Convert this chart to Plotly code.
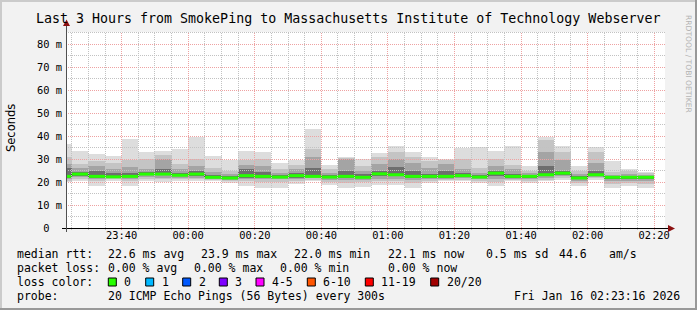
import math
import plotly.graph_objects as go
from datetime import datetime, timedelta

# ---------------- data ----------------
bar_times = ["23:20", "23:25", "23:30", "23:35", "23:40", "23:45", "23:50", "23:55",
             "00:00", "00:05", "00:10", "00:15", "00:20", "00:25", "00:30", "00:35",
             "00:40", "00:45", "00:50", "00:55", "01:00", "01:05", "01:10", "01:15",
             "01:20", "01:25", "01:30", "01:35", "01:40", "01:45", "01:50", "01:55",
             "02:00", "02:05", "02:10", "02:15"]

max_rtt = [36.5, 33.6, 32.3, 31.4, 38.8, 33.0, 33.6, 34.5, 39.8, 31.4, 29.7, 33.6,
           33.0, 28.5, 29.7, 43.2, 27.6, 30.9, 30.0, 32.6, 35.8, 33.3, 31.1, 30.1,
           35.0, 35.5, 33.6, 35.8, 27.1, 39.8, 35.8, 26.8, 35.1, 29.0, 25.7, 24.3]
hi2 = [31.0, 28.0, 29.0, 28.5, 29.5, 30.0, 32.0, 28.0, 30.0, 26.0, 25.0, 29.5,
       30.0, 25.5, 27.5, 34.5, 25.5, 30.5, 27.0, 31.0, 33.0, 31.0, 29.0, 29.5,
       30.0, 26.0, 30.0, 27.5, 25.0, 38.5, 33.0, 25.0, 33.0, 24.5, 24.8, 23.8]
hi3 = [28.0, 26.0, 27.0, 25.5, 26.5, 25.5, 30.0, 25.5, 27.0, 24.5, 23.5, 27.5,
       27.0, 24.0, 25.5, 31.0, 24.0, 30.0, 25.0, 28.0, 30.0, 28.5, 26.0, 28.0,
       25.5, 24.0, 27.0, 25.5, 23.8, 33.0, 29.5, 23.5, 28.5, 23.3, 23.5, 23.2]
hi4 = [26.0, 24.5, 25.0, 24.0, 24.0, 24.2, 25.5, 24.0, 25.0, 23.2, 22.8, 25.5,
       24.5, 23.0, 24.0, 26.0, 23.0, 25.0, 23.5, 25.0, 26.5, 25.0, 23.5, 25.0,
       24.0, 23.0, 25.0, 23.5, 23.0, 27.0, 25.0, 22.5, 25.0, 22.6, 22.8, 22.7]
median_rtt = [22.5, 23.5, 22.5, 22.3, 22.5, 23.5, 23.5, 23.0, 23.5, 22.1, 21.8, 22.8,
              22.5, 22.2, 22.8, 22.5, 22.2, 22.5, 22.1, 23.6, 23.2, 22.5, 22.5, 22.5,
              22.8, 22.2, 23.9, 22.5, 22.5, 23.2, 23.9, 21.8, 23.2, 22.1, 22.1, 22.1]
lo4 = [21.8, 22.8, 22.0, 22.1, 22.2, 23.0, 23.0, 22.5, 22.5, 21.8, 21.4, 22.0,
       22.0, 21.8, 22.0, 22.2, 21.8, 22.0, 21.6, 22.8, 22.5, 22.0, 22.0, 22.0,
       22.3, 21.8, 22.8, 22.0, 22.0, 22.5, 23.2, 21.2, 22.8, 21.5, 21.5, 21.5]
lo3 = [21.2, 22.2, 21.5, 21.8, 21.5, 22.3, 22.0, 22.0, 22.0, 21.5, 21.0, 21.5,
       21.5, 21.2, 21.5, 21.8, 21.0, 21.0, 21.0, 21.5, 21.5, 21.0, 21.5, 21.5,
       21.8, 21.2, 21.5, 21.5, 21.2, 21.8, 22.5, 20.5, 22.3, 20.5, 20.5, 20.5]
lo2 = [20.5, 21.5, 20.5, 21.2, 20.5, 21.5, 21.5, 21.5, 21.5, 21.0, 20.5, 20.5,
       20.0, 20.0, 20.5, 21.0, 20.0, 19.5, 20.0, 20.5, 20.5, 19.8, 20.5, 21.0,
       21.0, 20.5, 20.0, 21.0, 20.5, 21.0, 21.8, 19.5, 21.8, 19.0, 19.5, 19.0]
min_rtt = [20.0, 20.5, 18.2, 20.3, 18.2, 20.5, 20.0, 20.3, 20.3, 20.3, 19.6, 18.2,
           17.5, 17.5, 19.3, 20.3, 18.6, 17.5, 17.8, 18.9, 18.9, 17.5, 19.6, 20.3,
           20.3, 19.6, 18.2, 20.3, 19.6, 20.3, 21.0, 18.4, 21.0, 17.5, 18.2, 17.5]

x_tick_labels = ["23:40", "00:00", "00:20", "00:40", "01:00", "01:20", "01:40", "02:00", "02:20"]
y_tick_vals = [0, 10, 20, 30, 40, 50, 60, 70, 80]
y_tick_labels = ["0\u00a0\u00a0", "10 m", "20 m", "30 m", "40 m", "50 m", "60 m", "70 m", "80 m"]

rtt_stat_names = ["avg", "max", "min", "now"]
rtt_stat_vals = [22.6, 23.9, 22.0, 22.1]
rtt_sd = 0.5
rtt_ams = 44.6
loss_stat_vals = [0.00, 0.00, 0.00, 0.00]
loss_labels = ["0", "1", "2", "3", "4-5", "6-10", "11-19", "20/20"]
loss_colors = ["#26ff00", "#00b8ff", "#0059ff", "#7e00ff", "#ff00ff", "#ff5500", "#ff0000", "#a10000"]
probe_text = "20 ICMP Echo Pings (56 Bytes) every 300s"
stamp_text = "Fri Jan 16 02:23:16 2026"
title_text = "Last 3 Hours from SmokePing to Massachusetts Institute of Technology Webserver"

# ---------------- geometry ----------------
W, H = 697, 310
L, R, T, B = 66, 32, 32, 82
PW, PH = W - L - R, H - T - B
t_start = datetime(2026, 1, 15, 23, 23, 16)
t_end = datetime(2026, 1, 16, 2, 23, 16)
SPAN = (t_end - t_start).total_seconds()
YMAX = 85.4
MONO = "DejaVu Sans Mono"
MINOR_C = "#c2c2c2"
MAJOR_C = "#eea2a2"
DOT = "1px,1px"


def X(px):
    return (px - L) / PW


def Y(py):
    return (H - B - py) / PH


def snap(p):
    return math.floor(p) + 0.5


def to_dt(hm):
    h, m = map(int, hm.split(":"))
    return datetime(2026, 1, 15 if h >= 12 else 16, h, m)


step = timedelta(minutes=5)
starts = [to_dt(t) for t in bar_times]
centers = [s + step / 2 for s in starts]
ends = [s + step for s in starts]

fig = go.Figure()

# smoke layers
layers = [(min_rtt, max_rtt, "#dddddd"), (lo2, hi2, "#c4c4c4"),
          (lo3, hi3, "#a4a4a4"), (lo4, hi4, "#6e6e6e")]
for lo, hi, col in layers:
    fig.add_trace(go.Bar(x=centers, y=[h - l for h, l in zip(hi, lo)], base=lo,
                         width=300000, marker=dict(color=col, line=dict(width=0)),
                         hoverinfo="skip"))

# horizontal dotted grid, drawn over the smoke (snapped to pixel rows)
for is_major in (False, True):
    hx, hy = [], []
    for v in range(5, 90, 5):
        if v > YMAX or (v % 10 == 0) != is_major:
            continue
        vs = (H - B - snap(H - B - v / YMAX * PH)) / PH * YMAX
        hx += [t_start, t_end, None]
        hy += [vs, vs, None]
    fig.add_trace(go.Scatter(x=hx, y=hy, mode="lines", hoverinfo="skip",
                             line=dict(color=MAJOR_C if is_major else MINOR_C, width=1, dash=DOT)))

# thin dark median step line
fig.add_trace(go.Scatter(x=starts + [ends[-1]], y=median_rtt + [median_rtt[-1]],
                         mode="lines", line=dict(shape="hv", color="#202020", width=1),
                         hoverinfo="skip"))
# green (0 loss) median segments
gx, gy = [], []
for s, e, m in zip(starts, ends, median_rtt):
    gx += [s, e, None]
    gy += [m, m, None]
fig.add_trace(go.Scatter(x=gx, y=gy, mode="lines", line=dict(color=loss_colors[0], width=3),
                         hoverinfo="skip"))

shapes = []
# vertical grid lines (snapped to pixel centres)
t = datetime(2026, 1, 15, 23, 25)
while t < t_end:
    major = (t.minute % 20 == 0)
    px = snap(L + (t - t_start).total_seconds() / SPAN * PW)
    shapes.append(dict(type="line", xref="paper", yref="paper", x0=X(px), x1=X(px),
                       y0=Y(230), y1=Y(T),
                       line=dict(color=MAJOR_C if major else MINOR_C, width=1, dash=DOT),
                       layer="above"))
    t += step
# axes
shapes.append(dict(type="line", xref="paper", yref="paper", x0=X(62), x1=X(669),
                   y0=Y(228.5), y1=Y(228.5), line=dict(color="#000000", width=1), layer="above"))
shapes.append(dict(type="line", xref="paper", yref="paper", x0=X(66.5), x1=X(66.5),
                   y0=Y(232), y1=Y(25), line=dict(color="#505050", width=1), layer="above"))
shapes.append(dict(type="path", xref="paper", yref="paper",
                   path=f"M {X(668)},{Y(225)} L {X(668)},{Y(232)} L {X(675)},{Y(228.5)} Z",
                   fillcolor="#8b1010", line=dict(width=0), layer="above"))
shapes.append(dict(type="path", xref="paper", yref="paper",
                   path=f"M {X(63)},{Y(26)} L {X(70)},{Y(26)} L {X(66.5)},{Y(19.5)} Z",
                   fillcolor="#8b1010", line=dict(width=0), layer="above"))
# image frame
shapes.append(dict(type="rect", xref="paper", yref="paper", x0=X(0), x1=X(W), y0=Y(0), y1=Y(2),
                   fillcolor="#cbcbcb", line=dict(width=0)))
shapes.append(dict(type="rect", xref="paper", yref="paper", x0=X(0), x1=X(2), y0=Y(0), y1=Y(H),
                   fillcolor="#cbcbcb", line=dict(width=0)))
shapes.append(dict(type="rect", xref="paper", yref="paper", x0=X(0), x1=X(W), y0=Y(H - 2), y1=Y(H),
                   fillcolor="#999999", line=dict(width=0)))
shapes.append(dict(type="rect", xref="paper", yref="paper", x0=X(W - 2), x1=X(W), y0=Y(0), y1=Y(H),
                   fillcolor="#999999", line=dict(width=0)))

annotations = []


def txt(px, py, s, size=11.5, anchor="left", family=MONO, color="#000000", angle=0):
    annotations.append(dict(x=X(px), y=Y(py), xref="paper", yref="paper", text=s, showarrow=False,
                            xanchor=anchor, yanchor="middle", borderpad=0, textangle=angle,
                            font=dict(family=family, size=size, color=color)))


txt(347.5, 19, title_text, size=13.3, anchor="center")
txt(11, 128, "Seconds", size=11.5, anchor="center", family="DejaVu Sans", angle=-90)
txt(688, 64, "RRDTOOL / TOBI OETIKER", size=7.6, anchor="center", family="DejaVu Sans",
    color="#b4b4b4", angle=90)

# legend rows
row_y = [254.3, 268.3, 282.3, 296.3]
txt(16, row_y[0], "median rtt:")
for px, v, n in zip([107.3, 200, 293.3, 386.7], rtt_stat_vals, rtt_stat_names):
    txt(px, row_y[0], f"{v:.1f} ms {n}")
txt(485, row_y[0], f"{rtt_sd:.1f} ms sd")
txt(558.3, row_y[0], f"{rtt_ams:.1f}")
txt(608.3, row_y[0], "am/s")

txt(16, row_y[1], "packet loss:")
for px, v, n in zip([107.3, 193.3, 279.3, 386.7], loss_stat_vals, rtt_stat_names):
    txt(px, row_y[1], f"{v:.2f} % {n}")

txt(16, row_y[2], "loss color:")
box_x = [108.3, 145.7, 182.7, 219.3, 256, 307.3, 365.3, 430.7]
for bx, lab, col in zip(box_x, loss_labels, loss_colors):
    shapes.append(dict(type="rect", xref="paper", yref="paper", x0=X(bx), x1=X(bx + 8),
                       y0=Y(row_y[2] - 4.3), y1=Y(row_y[2] + 3.7), fillcolor=col,
                       line=dict(color="#000000", width=1)))
    txt(bx + 15, row_y[2], lab)

txt(16, row_y[3], "probe:")
txt(107.3, row_y[3], probe_text)
txt(513.3, row_y[3], stamp_text)

fig.update_layout(
    width=W, height=H, margin=dict(l=L, r=R, t=T, b=B, pad=0),
    paper_bgcolor="#f2f2f2", plot_bgcolor="#ffffff",
    showlegend=False, barmode="overlay", bargap=0,
    shapes=shapes, annotations=annotations,
    xaxis=dict(type="date", range=[t_start, t_end], showgrid=False, zeroline=False, showline=False,
               tickvals=[to_dt(s) for s in x_tick_labels], ticktext=x_tick_labels, ticks="",
               tickfont=dict(family=MONO, size=10.4, color="#000000"), fixedrange=True),
    yaxis=dict(range=[0, YMAX], showgrid=False, zeroline=False, showline=False,
               tickvals=y_tick_vals, ticktext=y_tick_labels, ticks="", ticklabelstandoff=3,
               tickfont=dict(family=MONO, size=10.4, color="#000000"), fixedrange=True),
)

fig.write_html("out.html")
